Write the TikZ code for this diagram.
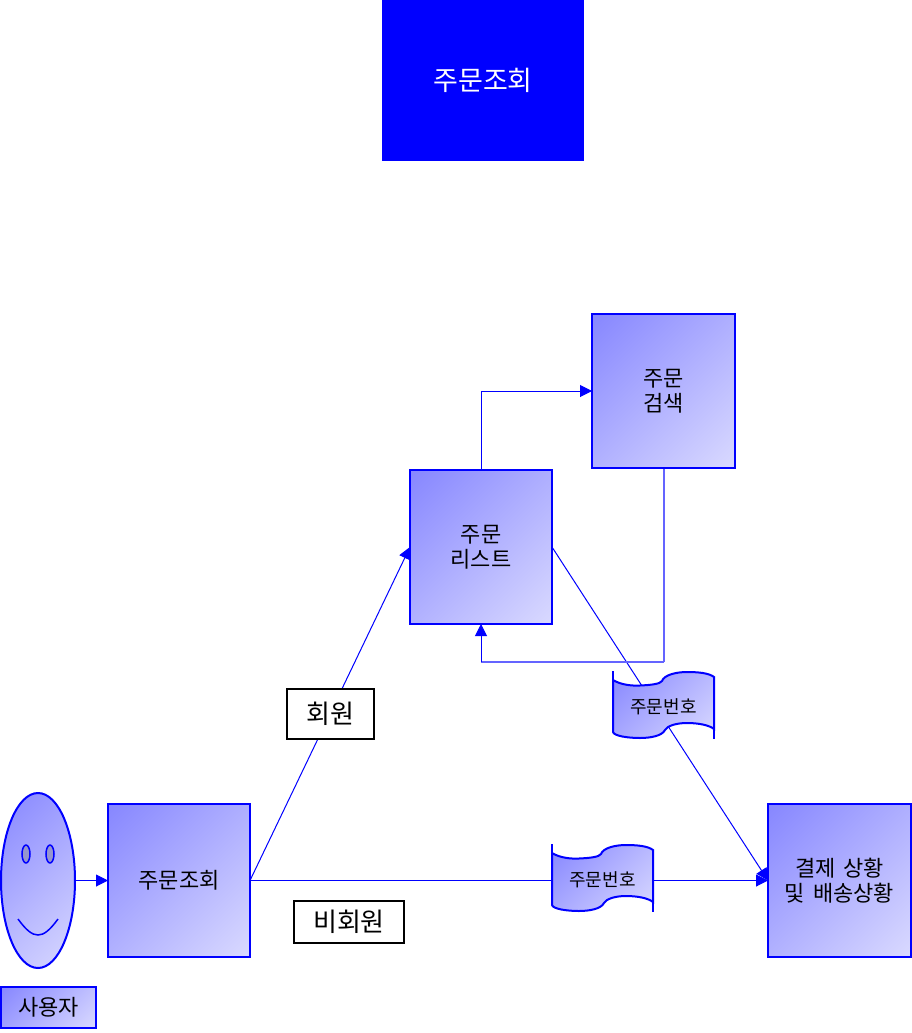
\documentclass[tikz,border=0pt]{standalone}
\usepackage{fontspec}
\setmainfont{Noto Sans CJK KR}
\usetikzlibrary{shapes.geometric,arrows.meta,backgrounds}
\definecolor{edgeblue}{RGB}{0,0,255}
\definecolor{gradA}{RGB}{136,136,255}
\definecolor{gradB}{RGB}{216,216,255}
\definecolor{palelink}{RGB}{100,100,255}
\definecolor{eyefill}{RGB}{150,150,205}
\pgfdeclareverticalshading{diagramp}{100bp}{color(0bp)=(gradB); color(16bp)=(gradB); color(84bp)=(gradA); color(100bp)=(gradA)}
\tikzset{
  x=1pt,y=-1pt,
  grad/.style={shade,shading=diagramp,shading angle=45},
  procbox/.style={rectangle,draw=edgeblue,line width=2pt,grad,inner sep=0pt,outer sep=0pt,
    minimum width=142pt,minimum height=153pt,align=center,text=black,
    font=\fontsize{22}{25}\selectfont},
  tagbox/.style={rectangle,draw=black,line width=1.5pt,fill=white,inner sep=0pt,outer sep=0pt,
    font=\fontsize{26}{30}\selectfont},
  bannerlabel/.style={rectangle,inner sep=0pt,outer sep=0pt,minimum width=101pt,minimum height=68pt,
    font=\fontsize{18}{20}\selectfont},
  link/.style={draw=edgeblue,line width=1pt},
  tiplink/.style={link,-{Triangle[length=12pt,width=12pt]}},
  palearrow/.style={draw=palelink,line width=1.2pt},
  bannerline/.style={draw=edgeblue,line width=2pt},
}
\newcommand{\bannerform}[2]{%
  \begin{scope}[shift={(#1,#2)}]
    \shade[grad,bannerline] (0,9) .. controls (8,14) and (20,15) .. (27,14.5)
      .. controls (38,14) and (47,13) .. (49,10)
      .. controls (51,4) and (63,1) .. (74,1)
      .. controls (85,1) and (96,2) .. (101,6) -- (101,58)
      .. controls (96,54) and (85,52) .. (74,52)
      .. controls (63,52) and (54,55) .. (52,59)
      .. controls (49,65) and (37,67) .. (27,67)
      .. controls (15,67) and (1,65) .. (0,61) -- cycle;
    \draw[bannerline] (0,0) -- (0,9);
    \draw[bannerline] (101,58) -- (101,68);
  \end{scope}}
\begin{document}
\begin{tikzpicture}
\useasboundingbox (0,0) rectangle (912,1033);
\node[rectangle,fill=edgeblue,text=white,inner sep=0pt,minimum width=202pt,minimum height=161pt,
  font=\fontsize{27}{30}\selectfont] (title) at (483,80.5) {주문조회};
\node[ellipse,draw=edgeblue,line width=2pt,grad,inner sep=0pt,outer sep=0pt,minimum width=74pt,minimum height=175pt] (face) at (38,880.5) {};
\node[ellipse,draw=edgeblue,line width=1.5pt,fill=eyefill,inner sep=0pt,minimum width=8pt,minimum height=18pt] (eyeL) at (26,854) {};
\node[ellipse,draw=edgeblue,line width=1.5pt,fill=eyefill,inner sep=0pt,minimum width=8pt,minimum height=18pt] (eyeR) at (50,854) {};
\draw[draw=edgeblue,line width=1.5pt] (18,919) .. controls (26,930) and (32,935) .. (38,935) .. controls (44,935) and (50,930) .. (58,919);
\node[procbox,minimum width=95pt,minimum height=41pt] (user) at (48.5,1007.5) {사용자};
\node[procbox] (order) at (179,880.5) {주문조회};
\node[procbox,minimum height=154pt] (list) at (481,547) {주문\\리스트};
\node[procbox,minimum width=143pt,minimum height=154pt] (search) at (663.5,391) {주문\\검색};
\node[procbox,minimum width=143pt] (result) at (839.5,880.5) {결제 \hspace{3pt}상황\\및 \hspace{3pt}배송상황};
\bannerform{613}{671}
\node[bannerlabel] (numA) at (663.5,707.5) {\raisebox{3pt}{주문번호}};
\bannerform{552}{844}
\node[bannerlabel] (numB) at (602.5,880.5) {\raisebox{3pt}{주문번호}};
\node[tagbox,minimum width=87pt,minimum height=50pt] (member) at (330.5,714) {회원};
\node[tagbox,minimum width=110pt,minimum height=42pt] (guest) at (349,922) {비회원};
\coordinate (turn) at (664,662);
\begin{pgfonlayer}{background}
\draw[tiplink] (face.east) -- (order.west);
\draw[tiplink] (order.east) -- (list.west);
\draw[link] (order.east) -- (numB.west);
\draw[tiplink] (numB.east) -- (result.west);
\draw[tiplink] (list.east) -- (result.west);
\draw[tiplink] (list.north) |- (search.west);
\draw[palearrow] (turn |- search.south) -- (turn);
\draw[palearrow] (turn) -- (turn -| list.south);
\draw[link,-{Triangle[length=12pt,width=12pt]}] (turn -| list.south) -- (list.south);
\end{pgfonlayer}
\end{tikzpicture}
\end{document}
